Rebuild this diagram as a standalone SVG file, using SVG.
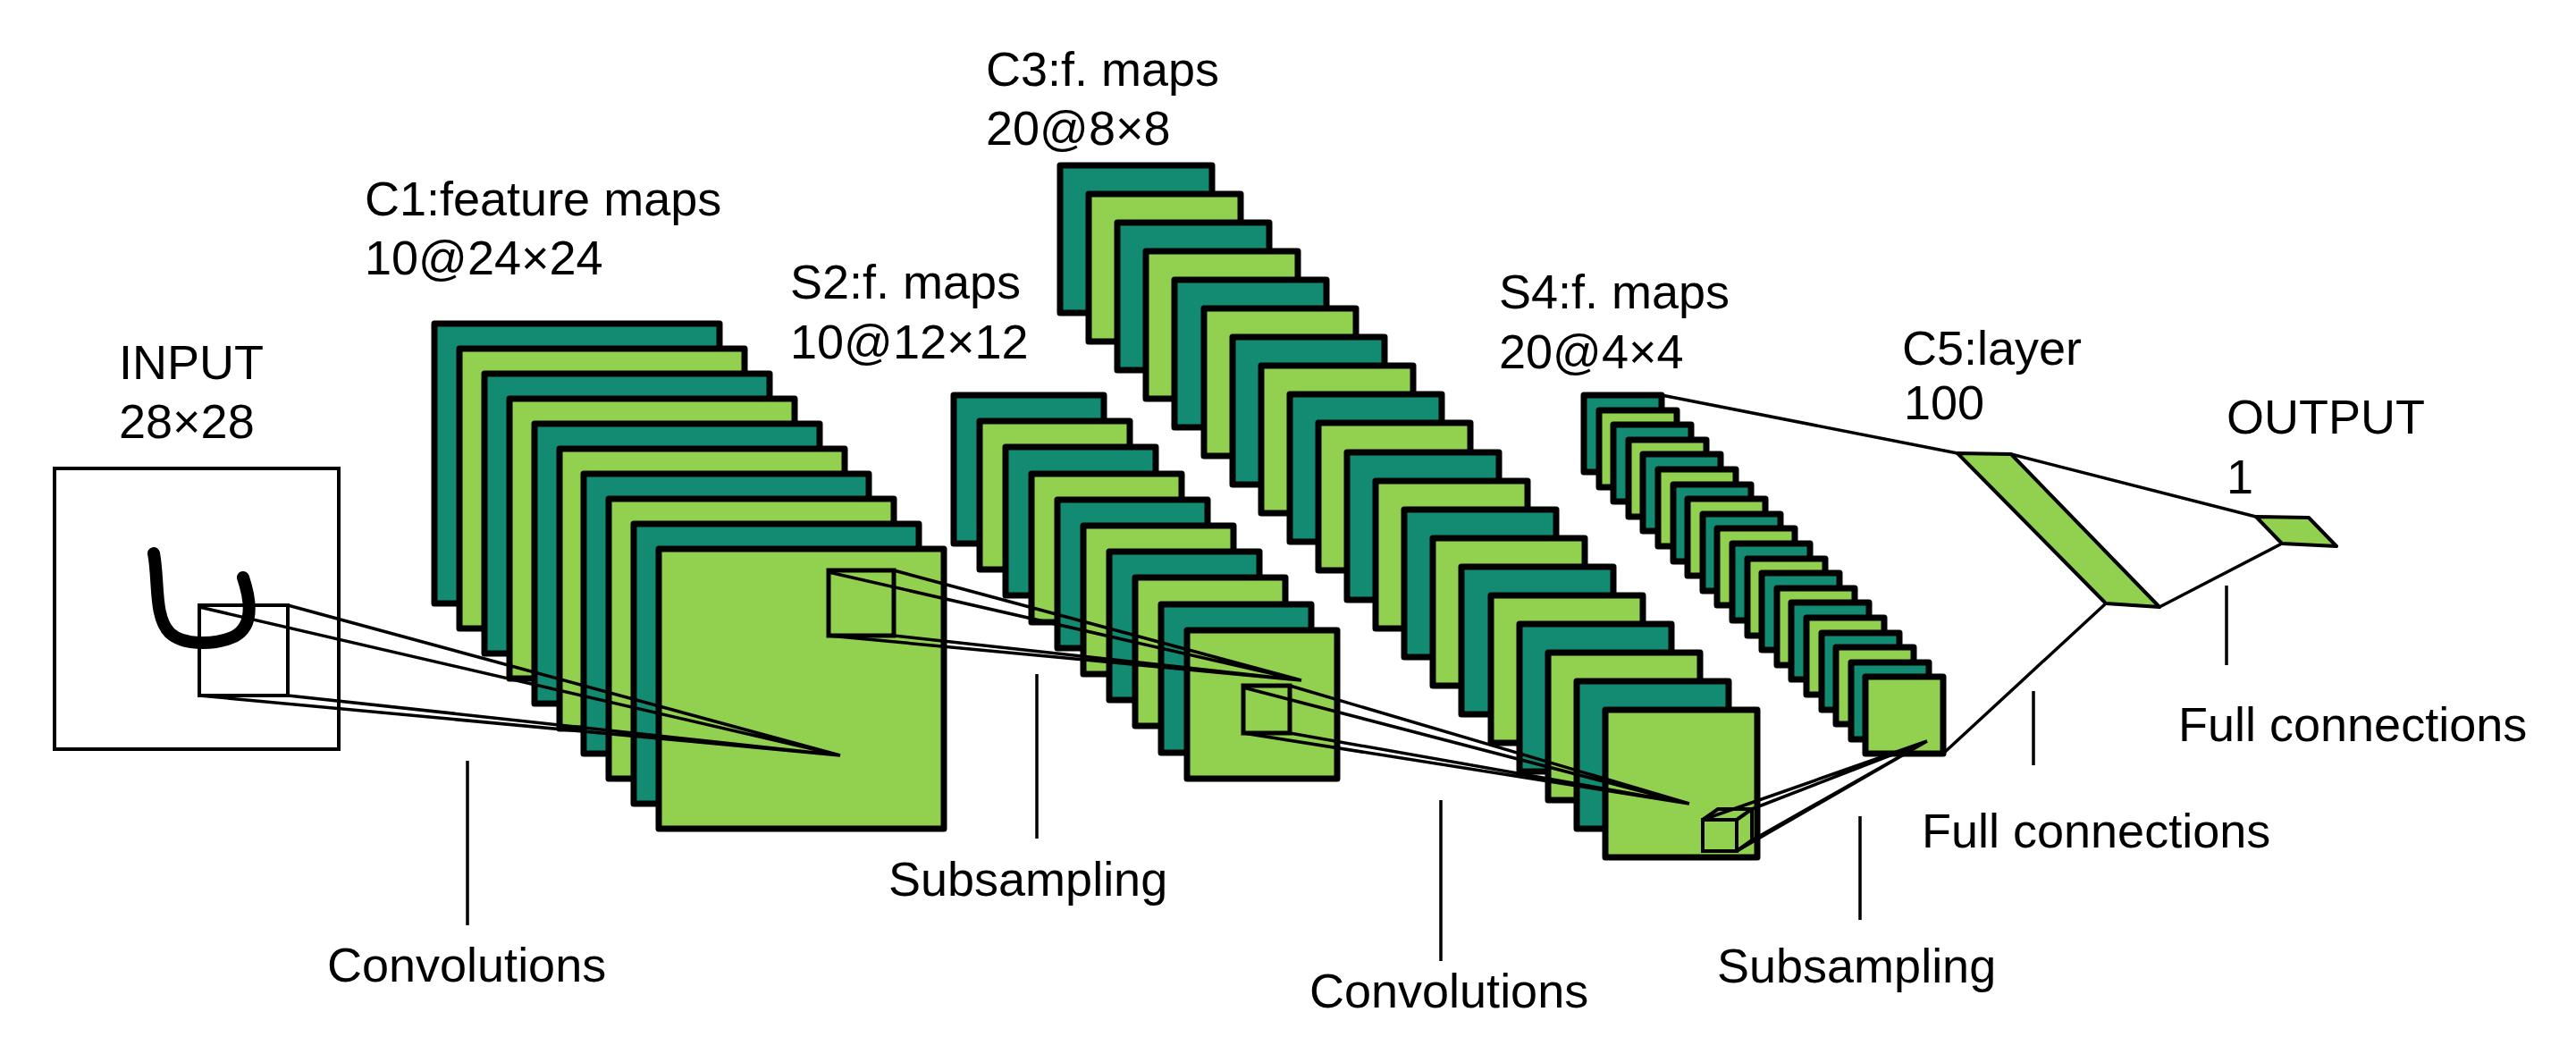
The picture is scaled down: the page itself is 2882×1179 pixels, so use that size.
<svg xmlns="http://www.w3.org/2000/svg" width="2882" height="1179" viewBox="0 0 2882 1179">
<style>
.d{fill:#138a72;stroke:#000;stroke-width:7;stroke-linejoin:round}
.l{fill:#92d050;stroke:#000;stroke-width:7;stroke-linejoin:round}
.ln{stroke:#000;stroke-width:3.5;fill:none}
.t{font-family:"Liberation Sans",Arial,sans-serif;font-size:54px;fill:#000}
</style>
<rect width="2882" height="1179" fill="#fff"/>
<g id="input">
<rect x="61" y="524" width="318" height="314" fill="#fff" stroke="#000" stroke-width="4"/>
<path d="M172,619 C178,650 172,690 190,708 C205,722 240,722 262,712 C285,700 280,670 272,646" fill="none" stroke="#000" stroke-width="14" stroke-linecap="round"/>
<rect x="223" y="677" width="99" height="101" fill="none" stroke="#000" stroke-width="4"/>
<text class="t" x="133" y="424">INPUT</text>
<text class="t" x="133" y="490">28×28</text>
</g>
<g id="c1">
<rect class="d" x="486" y="362" width="319" height="313"/>
<rect class="l" x="514" y="390" width="319" height="313"/>
<rect class="d" x="542" y="418" width="319" height="313"/>
<rect class="l" x="570" y="446" width="319" height="313"/>
<rect class="d" x="598" y="474" width="319" height="313"/>
<rect class="l" x="626" y="502" width="319" height="313"/>
<rect class="d" x="653" y="530" width="319" height="313"/>
<rect class="l" x="681" y="558" width="319" height="313"/>
<rect class="d" x="709" y="586" width="319" height="313"/>
<rect class="l" x="737" y="614" width="319" height="313"/>
<rect x="927" y="638" width="73" height="73" fill="none" stroke="#000" stroke-width="5"/>
<text class="t" x="408" y="241">C1:feature maps</text>
<text class="t" x="408" y="307">10@24×24</text>
</g>
<g id="s2">
<rect class="d" x="1067" y="442" width="168" height="166"/>
<rect class="l" x="1096" y="471" width="168" height="166"/>
<rect class="d" x="1125" y="500" width="168" height="166"/>
<rect class="l" x="1154" y="530" width="168" height="166"/>
<rect class="d" x="1183" y="559" width="168" height="166"/>
<rect class="l" x="1212" y="588" width="168" height="166"/>
<rect class="d" x="1241" y="617" width="168" height="166"/>
<rect class="l" x="1270" y="646" width="168" height="166"/>
<rect class="d" x="1299" y="676" width="168" height="166"/>
<rect class="l" x="1328" y="705" width="168" height="166"/>
<rect x="1391" y="767" width="52" height="53" fill="none" stroke="#000" stroke-width="5"/>
<text class="t" x="884" y="334">S2:f. maps</text>
<text class="t" x="884" y="401">10@12×12</text>
</g>
<g id="c3">
<rect class="d" x="1186" y="185" width="170" height="165"/>
<rect class="l" x="1218" y="217" width="170" height="165"/>
<rect class="d" x="1250" y="249" width="170" height="165"/>
<rect class="l" x="1282" y="281" width="170" height="165"/>
<rect class="d" x="1314" y="313" width="170" height="165"/>
<rect class="l" x="1347" y="345" width="170" height="165"/>
<rect class="d" x="1379" y="377" width="170" height="165"/>
<rect class="l" x="1411" y="409" width="170" height="165"/>
<rect class="d" x="1443" y="441" width="170" height="165"/>
<rect class="l" x="1475" y="473" width="170" height="165"/>
<rect class="d" x="1507" y="506" width="170" height="165"/>
<rect class="l" x="1539" y="538" width="170" height="165"/>
<rect class="d" x="1571" y="570" width="170" height="165"/>
<rect class="l" x="1603" y="602" width="170" height="165"/>
<rect class="d" x="1635" y="634" width="170" height="165"/>
<rect class="l" x="1668" y="666" width="170" height="165"/>
<rect class="d" x="1700" y="698" width="170" height="165"/>
<rect class="l" x="1732" y="730" width="170" height="165"/>
<rect class="d" x="1764" y="762" width="170" height="165"/>
<rect class="l" x="1796" y="794" width="170" height="165"/>
<path d="M1905,917 h38 v35 h-38 z M1905,917 l17,-12 h38 l-17,12 M1960,905 v35 l-17,12" fill="none" stroke="#000" stroke-width="4"/>
<text class="t" x="1103" y="96">C3:f. maps</text>
<text class="t" x="1103" y="162">20@8×8</text>
</g>
<g id="s4">
<rect class="d" x="1772" y="442" width="87" height="86"/>
<rect class="l" x="1789" y="459" width="87" height="86"/>
<rect class="d" x="1805" y="475" width="87" height="86"/>
<rect class="l" x="1822" y="492" width="87" height="86"/>
<rect class="d" x="1838" y="508" width="87" height="86"/>
<rect class="l" x="1855" y="525" width="87" height="86"/>
<rect class="d" x="1872" y="542" width="87" height="86"/>
<rect class="l" x="1888" y="558" width="87" height="86"/>
<rect class="d" x="1905" y="575" width="87" height="86"/>
<rect class="l" x="1921" y="591" width="87" height="86"/>
<rect class="d" x="1938" y="608" width="87" height="86"/>
<rect class="l" x="1955" y="625" width="87" height="86"/>
<rect class="d" x="1971" y="641" width="87" height="86"/>
<rect class="l" x="1988" y="658" width="87" height="86"/>
<rect class="d" x="2004" y="674" width="87" height="86"/>
<rect class="l" x="2021" y="691" width="87" height="86"/>
<rect class="d" x="2038" y="708" width="87" height="86"/>
<rect class="l" x="2054" y="724" width="87" height="86"/>
<rect class="d" x="2071" y="741" width="87" height="86"/>
<rect class="l" x="2087" y="757" width="87" height="86"/>
<text class="t" x="1677" y="345">S4:f. maps</text>
<text class="t" x="1677" y="412">20@4×4</text>
</g>
<g id="c5">
<polygon points="2190,507 2250,508 2416,679 2356,675" fill="#92d050" stroke="#000" stroke-width="4" stroke-linejoin="round"/>
<text class="t" x="2128" y="408">C5:layer</text>
<text class="t" x="2130" y="469">100</text>
</g>
<g id="output">
<polygon points="2524,578 2583,579 2614,611 2553,608" fill="#92d050" stroke="#000" stroke-width="4" stroke-linejoin="round"/>
<text class="t" x="2491" y="485">OUTPUT</text>
<text class="t" x="2491" y="552">1</text>
</g>
<g id="connectors">
<path class="ln" d="M223,679 L940,845 M322,677 L940,845 M223,778 L940,845 M322,778 L940,845"/>
<path class="ln" d="M927,640 L1456,761 M1000,638 L1456,761 M927,711 L1456,761 M1000,711 L1456,761"/>
<path class="ln" d="M1391,769 L1890,899 M1443,767 L1890,899 M1391,820 L1890,899 M1443,820 L1890,899"/>
<path class="ln" d="M1905,917 L2156,829 M1960,905 L2156,829 M1943,952 L2156,829 M1960,940 L2156,829"/>
<path class="ln" d="M1859,442 L2190,507 M2250,508 L2524,578 M2356,675 L2175,842 M2553,608 L2416,679"/>
<path class="ln" d="M523,851 V1035 M1160,754 V938 M1612,895 V1075 M2081,913 V1029 M2275,773 V856 M2491,655 V744"/>
</g>
<g id="labels">
<text class="t" x="366" y="1098">Convolutions</text>
<text class="t" x="994" y="1002">Subsampling</text>
<text class="t" x="1465" y="1127">Convolutions</text>
<text class="t" x="1921" y="1099">Subsampling</text>
<text class="t" x="2150" y="948">Full connections</text>
<text class="t" x="2437" y="829">Full connections</text>
</g>
</svg>
